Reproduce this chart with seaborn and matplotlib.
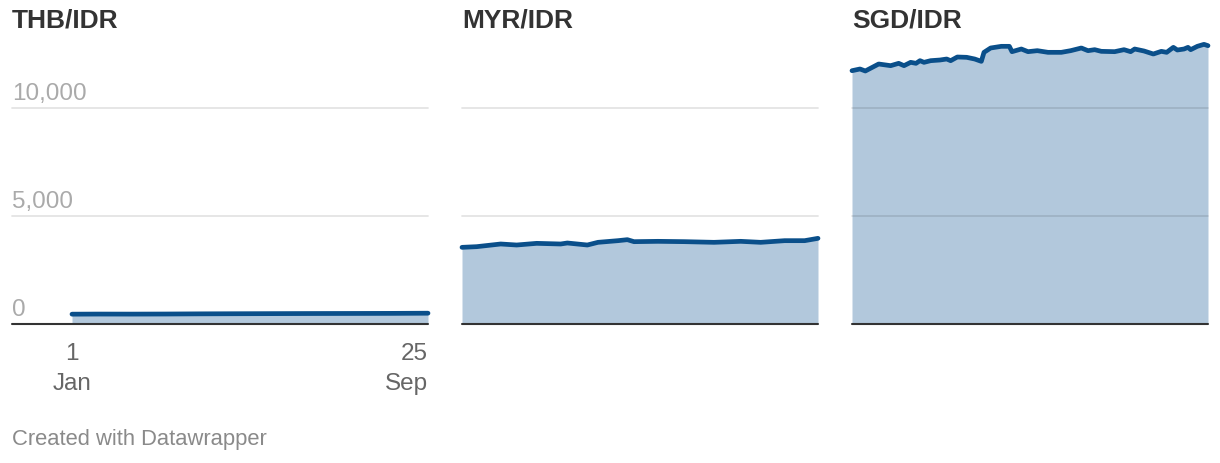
import pandas as pd
import numpy as np
import matplotlib.pyplot as plt
import seaborn as sns

# exchange rates, days counted from 1 Jan 2025
start = pd.Timestamp("2025-01-01")

thb_days = [0, 20, 45, 70, 95, 120, 150, 180, 210, 240, 267]
thb_vals = [455, 460, 458, 462, 470, 475, 480, 485, 488, 492, 500]

myr_days = [0, 11, 29, 41, 56, 74, 79, 94, 102, 117, 124, 129, 147, 167, 189, 209, 224, 242, 257, 267]
myr_vals = [3549, 3580, 3704, 3657, 3734, 3704, 3750, 3657, 3781, 3858, 3904, 3812, 3827, 3812,
            3781, 3827, 3781, 3858, 3858, 3966]

sgd_days = [0, 6, 10, 20, 29, 35, 39, 44, 48, 51, 54, 59, 66, 71, 74, 79, 86, 92, 97, 99, 104,
            112, 118, 120, 127, 132, 139, 147, 157, 164, 172, 177, 182, 187, 197, 204, 209, 212,
            219, 226, 232, 236, 241, 244, 249, 252, 254, 259, 264, 267]
sgd_vals = [11727, 11806, 11713, 12037, 11960, 12068, 11960, 12114, 12068, 12191, 12114, 12191,
            12222, 12268, 12191, 12361, 12346, 12268, 12160, 12577, 12778, 12855, 12855, 12608,
            12731, 12608, 12654, 12577, 12577, 12654, 12778, 12654, 12700, 12623, 12608, 12700,
            12608, 12731, 12639, 12500, 12623, 12577, 12808, 12685, 12731, 12808, 12700, 12855,
            12947, 12885]

titles = ["THB/IDR", "MYR/IDR", "SGD/IDR"]
y_ticks = [0, 5000, 10000]
y_labels = ["0", "5,000", "10,000"]

series = [(thb_days, thb_vals), (myr_days, myr_vals), (sgd_days, sgd_vals)]

line_col = "#0a4f8a"
fill_col = "#b2c8dc"

sns.set_style("white")
plt.rcParams["font.family"] = ["Liberation Sans", "DejaVu Sans"]

W, H = 1220, 464
fig = plt.figure(figsize=(W / 100, H / 100), dpi=100)

lefts = [72, 462, 852]
aw = 356
base_y = 325
ah = 13200 * 0.0216

end_day = pd.Timestamp("2025-09-25")
for i, (days, vals) in enumerate(series):
    ax = fig.add_axes([lefts[i] / W, (H - base_y) / H, aw / W, ah / H])
    df = pd.DataFrame({"date": start + pd.to_timedelta(days, unit="D"), "rate": vals})
    ax.fill_between(df["date"], 0, df["rate"], color=fill_col, lw=0, zorder=1)
    sns.lineplot(data=df, x="date", y="rate", ax=ax, color=line_col, lw=3.4,
                 zorder=3, clip_on=False)
    ax.set_xlim(start, end_day)
    ax.set_ylim(0, 13200)
    for s in ax.spines.values():
        s.set_visible(False)
    ax.set_xticks([])
    ax.set_yticks([])
    ax.set_xlabel("")
    ax.set_ylabel("")

    ext = -60 / aw if i == 0 else 0
    for t in y_ticks[1:]:
        ax.axhline(t, xmin=ext, xmax=1, color="black", alpha=0.11, lw=1.3,
                   zorder=2, clip_on=False)
    ax.axhline(0, xmin=ext, xmax=1, color="#333333", lw=1.5, zorder=4, clip_on=False)

    fig.text((lefts[i] if i > 0 else 12) / W, (H - 21) / H, titles[i],
             fontsize=19, fontweight="bold", color="#333333", ha="left", va="center")

    if i == 0:
        for t, lab in zip(y_ticks, y_labels):
            ax.annotate(lab, xy=(ext, t), xycoords=("axes fraction", "data"),
                        xytext=(0, 3), textcoords="offset points",
                        fontsize=17.5, color="#aaaaaa", ha="left", va="bottom")
        ax.annotate("1\nJan", xy=(0, 0), xycoords="axes fraction", xytext=(0, -13),
                    textcoords="offset points", fontsize=17.5, color="#666666",
                    ha="center", va="top", linespacing=1.45, multialignment="center")
        ax.annotate("25\nSep", xy=(1, 0), xycoords="axes fraction", xytext=(0, -13),
                    textcoords="offset points", fontsize=17.5, color="#666666",
                    ha="right", va="top", linespacing=1.45, multialignment="right")

fig.text(12 / W, (H - 440) / H, "Created with Datawrapper", fontsize=15.8, color="#8a8a8a",
         ha="left", va="center")

fig.savefig("out.png", dpi=100)
